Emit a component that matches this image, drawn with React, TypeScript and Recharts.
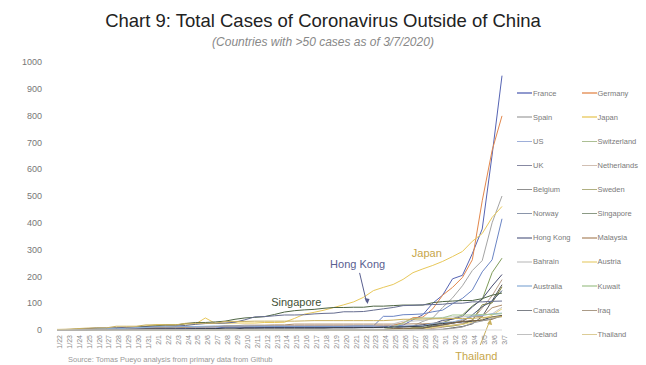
import React from 'react';
import { LineChart, Line, XAxis, YAxis, ReferenceDot, ReferenceLine } from 'recharts';

// dates on the x axis
const dates = [
  '1/22', '1/23', '1/24', '1/25', '1/26', '1/27', '1/28', '1/29', '1/30', '1/31',
  '2/1', '2/2', '2/3', '2/4', '2/5', '2/6', '2/7', '2/8', '2/9', '2/10',
  '2/11', '2/12', '2/13', '2/14', '2/15', '2/16', '2/17', '2/18', '2/19', '2/20',
  '2/21', '2/22', '2/23', '2/24', '2/25', '2/26', '2/27', '2/28', '2/29',
  '3/1', '3/2', '3/3', '3/4', '3/5', '3/6', '3/7',
];

const yTicks = [0, 100, 200, 300, 400, 500, 600, 700, 800, 900, 1000];

const countries = [
  'France', 'Germany', 'Spain', 'Japan', 'US', 'Switzerland', 'UK', 'Netherlands',
  'Belgium', 'Sweden', 'Norway', 'Singapore', 'Hong Kong', 'Malaysia', 'Bahrain', 'Austria',
  'Australia', 'Kuwait', 'Canada', 'Iraq', 'Iceland', 'Thailand',
];

// total confirmed cases per day
const france = [0, 0, 2, 3, 3, 3, 4, 5, 5, 5, 6, 6, 6, 6, 6, 6, 6, 11, 11, 11, 11, 11, 11, 11, 12, 12, 12, 12, 12, 12, 12, 12, 12, 12, 14, 18, 38, 57, 100, 130, 191, 204, 285, 377, 653, 949];
const germany = [0, 0, 0, 0, 0, 1, 4, 4, 4, 5, 8, 10, 12, 12, 12, 12, 13, 13, 14, 14, 16, 16, 16, 16, 16, 16, 16, 16, 16, 16, 16, 16, 16, 16, 17, 27, 46, 48, 79, 130, 159, 196, 262, 482, 670, 799];
const spain = [0, 0, 0, 0, 0, 0, 0, 0, 0, 0, 1, 1, 1, 1, 1, 1, 1, 1, 2, 2, 2, 2, 2, 2, 2, 2, 2, 2, 2, 2, 2, 2, 2, 2, 6, 13, 15, 32, 45, 84, 120, 165, 222, 259, 400, 500];
const japan = [2, 1, 2, 2, 4, 4, 7, 7, 11, 15, 20, 20, 20, 22, 22, 45, 25, 25, 26, 26, 26, 28, 28, 29, 43, 59, 66, 74, 84, 94, 105, 122, 147, 159, 170, 189, 214, 228, 241, 256, 274, 293, 331, 360, 420, 461];
const us = [1, 1, 2, 2, 5, 5, 5, 5, 5, 7, 8, 8, 11, 11, 11, 11, 11, 11, 11, 11, 12, 12, 13, 13, 13, 13, 13, 13, 13, 13, 15, 15, 15, 51, 51, 57, 58, 60, 68, 74, 98, 118, 149, 217, 262, 415];
const switzerland = [0, 0, 0, 0, 0, 0, 0, 0, 0, 0, 0, 0, 0, 0, 0, 0, 0, 0, 0, 0, 0, 0, 0, 0, 0, 0, 0, 0, 0, 0, 0, 0, 0, 0, 1, 1, 8, 8, 18, 27, 42, 56, 90, 114, 214, 268];
const uk = [0, 0, 0, 0, 0, 0, 0, 0, 0, 2, 2, 2, 2, 2, 2, 2, 3, 3, 3, 8, 8, 9, 9, 9, 9, 9, 9, 9, 9, 9, 9, 9, 9, 13, 13, 13, 15, 20, 23, 36, 40, 51, 86, 116, 164, 207];
const netherlands = [0, 0, 0, 0, 0, 0, 0, 0, 0, 0, 0, 0, 0, 0, 0, 0, 0, 0, 0, 0, 0, 0, 0, 0, 0, 0, 0, 0, 0, 0, 0, 0, 0, 0, 0, 0, 1, 1, 6, 10, 18, 24, 38, 82, 128, 188];
const belgium = [0, 0, 0, 0, 0, 0, 0, 0, 0, 0, 0, 0, 0, 1, 1, 1, 1, 1, 1, 1, 1, 1, 1, 1, 1, 1, 1, 1, 1, 1, 1, 1, 1, 1, 1, 1, 1, 1, 1, 2, 8, 13, 23, 50, 109, 169];
const sweden = [0, 0, 0, 0, 0, 0, 0, 0, 0, 1, 1, 1, 1, 1, 1, 1, 1, 1, 1, 1, 1, 1, 1, 1, 1, 1, 1, 1, 1, 1, 1, 1, 1, 1, 1, 2, 7, 7, 12, 14, 15, 21, 35, 94, 101, 161];
const norway = [0, 0, 0, 0, 0, 0, 0, 0, 0, 0, 0, 0, 0, 0, 0, 0, 0, 0, 0, 0, 0, 0, 0, 0, 0, 0, 0, 0, 0, 0, 0, 0, 0, 0, 0, 1, 1, 6, 15, 19, 25, 32, 56, 87, 108, 147];
const singapore = [0, 1, 3, 3, 4, 5, 7, 7, 10, 13, 16, 18, 18, 24, 28, 28, 30, 33, 40, 45, 47, 50, 58, 67, 72, 75, 77, 81, 84, 84, 85, 85, 89, 89, 91, 93, 93, 93, 102, 106, 108, 110, 110, 117, 130, 138];
const hongKong = [0, 2, 2, 5, 8, 8, 8, 10, 10, 12, 13, 15, 15, 17, 21, 24, 25, 26, 29, 38, 49, 50, 53, 56, 56, 57, 60, 62, 63, 68, 68, 69, 74, 79, 84, 91, 92, 94, 95, 96, 100, 100, 105, 105, 107, 108];
const malaysia = [0, 0, 0, 3, 4, 4, 4, 7, 8, 8, 8, 8, 8, 10, 12, 12, 12, 16, 16, 18, 18, 18, 19, 19, 22, 22, 22, 22, 22, 22, 22, 22, 22, 22, 22, 22, 23, 23, 25, 29, 29, 36, 50, 50, 83, 93];
const bahrain = [0, 0, 0, 0, 0, 0, 0, 0, 0, 0, 0, 0, 0, 0, 0, 0, 0, 0, 0, 0, 0, 0, 0, 0, 0, 0, 0, 0, 0, 0, 0, 0, 0, 1, 23, 33, 33, 36, 41, 47, 49, 49, 52, 55, 60, 85];
const austria = [0, 0, 0, 0, 0, 0, 0, 0, 0, 0, 0, 0, 0, 0, 0, 0, 0, 0, 0, 0, 0, 0, 0, 0, 0, 0, 0, 0, 0, 0, 0, 0, 0, 0, 2, 2, 3, 3, 9, 14, 18, 21, 29, 41, 55, 79];
const australia = [0, 0, 0, 0, 4, 5, 5, 6, 9, 9, 12, 12, 12, 13, 13, 14, 15, 15, 15, 15, 15, 15, 15, 15, 15, 15, 15, 15, 15, 15, 15, 15, 15, 15, 15, 15, 15, 15, 25, 27, 30, 39, 52, 55, 60, 63];
const kuwait = [0, 0, 0, 0, 0, 0, 0, 0, 0, 0, 0, 0, 0, 0, 0, 0, 0, 0, 0, 0, 0, 0, 0, 0, 0, 0, 0, 0, 0, 0, 0, 0, 0, 1, 11, 26, 43, 45, 45, 45, 56, 56, 56, 58, 58, 61];
const canada = [0, 0, 0, 0, 1, 1, 2, 2, 2, 4, 4, 4, 4, 4, 5, 5, 5, 7, 7, 7, 7, 7, 7, 7, 7, 7, 7, 7, 8, 8, 8, 9, 9, 9, 11, 11, 13, 14, 20, 24, 27, 30, 33, 37, 49, 54];
const iraq = [0, 0, 0, 0, 0, 0, 0, 0, 0, 0, 0, 0, 0, 0, 0, 0, 0, 0, 0, 0, 0, 0, 0, 0, 0, 0, 0, 0, 0, 0, 0, 0, 0, 1, 5, 6, 7, 7, 13, 19, 26, 32, 35, 35, 40, 54];
const iceland = [0, 0, 0, 0, 0, 0, 0, 0, 0, 0, 0, 0, 0, 0, 0, 0, 0, 0, 0, 0, 0, 0, 0, 0, 0, 0, 0, 0, 0, 0, 0, 0, 0, 0, 0, 0, 0, 1, 1, 3, 6, 11, 26, 34, 43, 50];
const thailand = [2, 3, 5, 7, 8, 8, 14, 14, 14, 19, 19, 19, 19, 25, 25, 25, 25, 32, 32, 32, 33, 33, 33, 33, 33, 34, 35, 35, 35, 35, 35, 35, 35, 35, 37, 40, 40, 41, 42, 42, 43, 43, 43, 47, 48, 50];

const seriesValues = [
  france, germany, spain, japan, us, switzerland, uk, netherlands,
  belgium, sweden, norway, singapore, hongKong, malaysia, bahrain, austria,
  australia, kuwait, canada, iraq, iceland, thailand,
];

const lineColors: Record<string, string> = {
  France: '#5563b3',
  Germany: '#e2874c',
  Spain: '#a4a4a4',
  Japan: '#e8c85a',
  US: '#6a84c4',
  Switzerland: '#7f9c5a',
  UK: '#474a70',
  Netherlands: '#b89c8a',
  Belgium: '#555555',
  Sweden: '#86863e',
  Norway: '#4c5c7c',
  Singapore: '#4d6443',
  'Hong Kong': '#666d90',
  Malaysia: '#b08e6c',
  Bahrain: '#c6c6c6',
  Austria: '#e9d27e',
  Australia: '#8fb0d8',
  Kuwait: '#a6c694',
  Canada: '#383e48',
  Iraq: '#7e6646',
  Iceland: '#9e9e9e',
  Thailand: '#c9b05e',
};

const data = dates.map((d, i) => {
  const row: Record<string, number | string> = { idx: i, date: d };
  countries.forEach((c, k) => {
    row[c] = seriesValues[k][i];
  });
  return row;
});

const font = '"Liberation Sans", Arial, sans-serif';

// small arrow heads for the annotation pointers
const arrowDown = (color: string) => (p: any) => (
  <polygon points={`${p.cx - 2.5},${p.cy - 5} ${p.cx + 2.5},${p.cy - 4} ${p.cx + 0.5},${p.cy + 1}`} fill={color} />
);
const arrowUp = (color: string) => (p: any) => (
  <polygon points={`${p.cx - 3},${p.cy + 4} ${p.cx + 2},${p.cy + 5} ${p.cx + 0.3},${p.cy - 1}`} fill={color} />
);

const Legend2Col = () => {
  const rows: string[][] = [];
  for (let i = 0; i < countries.length; i += 2) rows.push([countries[i], countries[i + 1]]);
  return (
    <div style={{ position: 'absolute', left: 517, top: 87, width: 129 }}>
      {rows.map((r, ri) => (
        <div key={ri} style={{ display: 'flex', height: 24.15, alignItems: 'flex-start' }}>
          {r.map((c) => (
            <div key={c} style={{ width: 68, display: 'flex', alignItems: 'center', height: 12 }}>
              <span style={{ display: 'inline-block', width: 15, height: 1.5, background: lineColors[c], opacity: 0.65 }} />
              <span style={{ fontSize: 7.5, color: '#7a7a7a', marginLeft: 1, whiteSpace: 'nowrap' }}>{c}</span>
            </div>
          ))}
        </div>
      ))}
    </div>
  );
};

export default function App() {
  return (
    <div style={{ position: 'absolute', left: 0, top: 0, width: 646, height: 365, overflow: 'hidden', background: '#fff', fontFamily: font }}>
      <div style={{ position: 'absolute', top: 10, width: 646, textAlign: 'center', fontSize: 18.5, color: '#222' }}>
        Chart 9: Total Cases of Coronavirus Outside of China
      </div>
      <div style={{ position: 'absolute', top: 35, width: 646, textAlign: 'center', fontSize: 12, fontStyle: 'italic', color: '#888' }}>
        (Countries with &gt;50 cases as of 3/7/2020)
      </div>
      <LineChart width={646} height={365} data={data} margin={{ top: 62, right: 144, bottom: 10, left: 7 }}>
        <XAxis
          dataKey="idx"
          type="number"
          domain={[0, dates.length - 1]}
          ticks={dates.map((_, i) => i)}
          interval={0}
          tickFormatter={(i: number) => dates[i]}
          angle={-90}
          textAnchor="end"
          height={25}
          tickLine={false}
          tickSize={2}
          tickMargin={3}
          axisLine={{ stroke: '#dddddd' }}
          tick={{ fontSize: 7, fill: '#8a8a8a' }}
        />
        <YAxis
          domain={[0, 1000]}
          ticks={yTicks}
          width={50}
          axisLine={false}
          tickLine={false}
          tickSize={6}
          tickMargin={9}
          tick={{ fontSize: 9, fill: '#777' }}
        />
        {countries.map((c) => (
          <Line
            key={c}
            type="linear"
            dataKey={c}
            stroke={lineColors[c]}
            strokeWidth={1}
            dot={false}
            isAnimationActive={false}
          />
        ))}
        <ReferenceLine segment={[{ x: 30.6, y: 213 }, { x: 31.3, y: 104 }]} stroke="#5a6090" strokeWidth={1} />
        <ReferenceDot x={31.35} y={101} r={0} shape={arrowDown('#5a6090')} />
        <ReferenceLine segment={[{ x: 42.8, y: -56 }, { x: 43.75, y: 33 }]} stroke="#c9b05e" strokeWidth={1} ifOverflow="visible" />
        <ReferenceDot x={43.8} y={37} r={0} ifOverflow="visible" shape={arrowUp('#c9b05e')} />
        <ReferenceDot x={30.4} y={246} r={0} label={{ value: 'Hong Kong', fill: '#5a6090', fontSize: 11, position: 'center' }} />
        <ReferenceDot x={24.2} y={104} r={0} label={{ value: 'Singapore', fill: '#3f5236', fontSize: 11, position: 'center' }} />
        <ReferenceDot x={37.4} y={287} r={0} label={{ value: 'Japan', fill: '#c7a64a', fontSize: 11, position: 'center' }} />
        <ReferenceDot x={42.4} y={-97} r={0} ifOverflow="visible" label={{ value: 'Thailand', fill: '#c7a64a', fontSize: 11, position: 'center' }} />
      </LineChart>
      <Legend2Col />
      <div style={{ position: 'absolute', left: 68, top: 355, fontSize: 7.5, lineHeight: '9px', color: '#999' }}>
        Source: Tomas Pueyo analysis from primary data from Github
      </div>
    </div>
  );
}
